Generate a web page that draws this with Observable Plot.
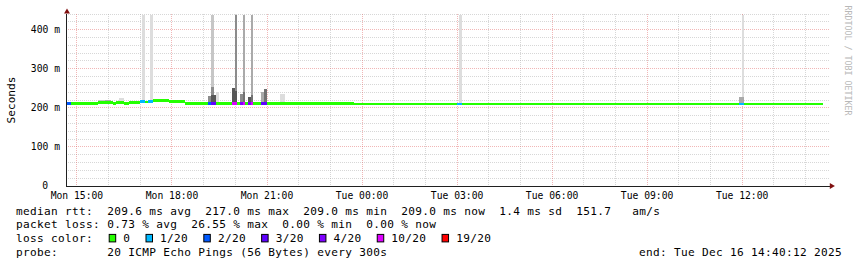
<!DOCTYPE html>
<html><head><meta charset="utf-8">
<script src="https://cdn.jsdelivr.net/npm/d3@7"></script>
<script src="https://cdn.jsdelivr.net/npm/@observablehq/plot@0.6"></script>
<style>
html,body{margin:0;padding:0;background:#fff;}
#wrap{position:relative;width:857px;height:267px;overflow:hidden;background:#fff;}
#wrap svg{display:block;}
</style></head>
<body><div id="wrap"></div>
<script>
// ---------- DATA ----------
// median rtt runs (5-minute steps), "day HH:MM" in Dec 2025
const runStart = ["15 14:40","15 14:50","15 15:40","15 15:55","15 16:10","15 16:15","15 16:30","15 16:40","15 17:00","15 17:10","15 17:15","15 17:25","15 17:55","15 18:25","15 19:10","15 19:15","15 19:25","15 19:55","15 20:05","15 20:10","15 20:15","15 20:20","15 20:25","15 20:30","15 20:35","15 20:50","15 21:00","15 23:45","16 03:00","16 03:10","16 11:55","16 12:05"];
const lastSample = "16 14:35";
const runMedianMs = [210.5,210.5,211.5,212.5,209.5,212.5,210,212.5,214,213.5,214,217,215,210.5,210.5,210.5,210.5,210.5,210.5,210.5,210.5,210.5,210.5,210.5,210.5,210.5,210.5,208.5,208.5,208.5,208.5,208.5];
const runLoss = [2,0,0,0,0,0,0,0,1,0,1,0,0,0,2,3,0,10,0,4,10,0,4,10,0,3,0,0,1,0,1,0];

// smoke (ping spread) blocks
const smokeStart = ["15 15:40","15 15:55","15 16:20","15 16:40","15 17:05","15 17:20","15 17:55","15 19:10","15 19:15","15 19:15","15 19:15","15 19:20","15 19:25","15 19:55","15 20:00","15 20:00","15 20:10","15 20:15","15 20:15","15 20:25","15 20:30","15 20:30","15 20:50","15 20:55","15 21:25","16 03:05","16 11:55","16 12:00"];
const smokeEnd   = ["15 15:55","15 16:05","15 16:30","15 17:00","15 17:10","15 17:25","15 18:10","15 19:15","15 19:20","15 19:20","15 19:20","15 19:25","15 19:30","15 20:00","15 20:05","15 20:05","15 20:15","15 20:20","15 20:20","15 20:30","15 20:35","15 20:35","15 20:55","15 21:00","15 21:35","16 03:10","16 12:05","16 12:05"];
const smokeLoMs  = [211,212,212,211,214,214,214,212,212,232,253,212,212,212,212,243,212,212,240,212,212,231,212,212,214,210,210,226];
const smokeHiMs  = [218,219,224,217,436,436,219,230,232,253,436,232,239,250,243,436,234,240,436,227,231,436,239,247,234,436,226,436];
const smokeDensity = [2,3,1,3,1,1,4,4,6,4,2,6,1,6,6,4,4,5,3,6,5,3,3,5,1,1,3,1];

// axes / legend
const xTickTimes  = ["15 15:00","15 18:00","15 21:00","16 00:00","16 03:00","16 06:00","16 09:00","16 12:00"];
const xTickLabels = ["Mon 15:00","Mon 18:00","Mon 21:00","Tue 00:00","Tue 03:00","Tue 06:00","Tue 09:00","Tue 12:00"];
const yTicksMs = [0,100,200,300,400];
const yTickLabels = ["0","100 m","200 m","300 m","400 m"];
const lossLevels = [0,1,2,3,4,10,19];
const lossLabels = ["0","1/20","2/20","3/20","4/20","10/20","19/20"];
const rttStats  = ["209.6 ms avg","217.0 ms max","209.0 ms min","209.0 ms now","1.4 ms sd","151.7   am/s"];
const lossStats = ["0.73 % avg","26.55 % max","0.00 % min","0.00 % now"];
const probeText = "20 ICMP Echo Pings (56 Bytes) every 300s";
const endText = "end: Tue Dec 16 14:40:12 2025";

// ---------- STYLE ----------
const lossColors = ["#26ff00","#00b8ff","#0059ff","#5e00ff","#7e00ff","#dd00ff","#ff0000"];
const smokeGrays = ["#dddddd","#c6c6c6","#aaaaaa","#8c8c8c","#727272","#575757"];
const MONO = "DejaVu Sans Mono";

function T(s){const [d,hm]=s.split(" ");const [h,m]=hm.split(":").map(Number);return new Date(Date.UTC(2025,11,+d,h,m));}
const tStart = new Date(Date.UTC(2025,11,15,14,40,12));
const tEnd   = new Date(Date.UTC(2025,11,16,14,40,12));

const runs = runStart.map((s,i)=>({
  x1:T(s), x2:T(i+1<runStart.length?runStart[i+1]:lastSample),
  ms:runMedianMs[i], color: lossColors[lossLevels.indexOf(runLoss[i])]
}));
const smoke = smokeStart.map((s,i)=>({x1:T(s),x2:T(smokeEnd[i]),y1:smokeLoMs[i],y2:smokeHiMs[i],fill:smokeGrays[smokeDensity[i]-1]}));

const hours = d3.utcHour.range(T("15 15:00"), tEnd);
const majorX = hours.filter(d=>d.getUTCHours()%3===0);
const minorX = hours.filter(d=>d.getUTCHours()%3!==0);
const minorY = d3.range(20,441,20).filter(d=>d%100!==0);
const majorY = yTicksMs.filter(d=>d>0);
const xTicks = xTickTimes.map((s,i)=>({t:T(s),label:xTickLabels[i]}));
const yTicks = yTicksMs.map((v,i)=>({v,label:yTickLabels[i]}));

const H = 201, BAND = 3.5;
const gridMinor = {stroke:"#a0a0a0",strokeOpacity:0.42,strokeDasharray:"1,1",shapeRendering:"crispEdges"};
const gridMajor = {stroke:"#e06060",strokeOpacity:0.45,strokeDasharray:"1,1",shapeRendering:"crispEdges"};
const plot = Plot.plot({
  width:857, height:H,
  marginLeft:66, marginRight:27, marginTop:13.5, marginBottom:H-185.5,
  x:{type:"utc", domain:[tStart,tEnd], range:[66,826.2], axis:null},
  y:{domain:[0,440], range:[185.5,13.5], axis:null},
  color:{type:"identity"},
  style:{fontFamily:MONO, background:"#fff", overflow:"visible"},
  marks:[
    Plot.ruleY(minorY,gridMinor),
    Plot.ruleX(minorX,gridMinor),
    Plot.ruleY(majorY,gridMajor),
    Plot.ruleX(majorX,gridMajor),
    Plot.rect(smoke,{x1:"x1",x2:"x2",y1:"y1",y2:"y2",fill:"fill",inset:0,shapeRendering:"crispEdges"}),
    Plot.rect(runs,{x1:"x1",x2:"x2",y1:d=>d.ms-BAND,y2:d=>d.ms+BAND,fill:"color",inset:0,shapeRendering:"crispEdges"}),
    Plot.ruleY([0],{stroke:"#202020",shapeRendering:"crispEdges"}),
    Plot.ruleX([tStart],{stroke:"#202020",shapeRendering:"crispEdges"}),
    Plot.dot([0],{frameAnchor:"top-left",symbol:"triangle",r:2.2,fill:"#801010",stroke:"none",dx:0.5,dy:-2.1}),
    Plot.dot([0],{frameAnchor:"bottom-right",symbol:"triangle",rotate:90,r:2.2,fill:"#801010",stroke:"none",dx:1,dy:0}),
    Plot.text(xTicks,{x:"t",text:"label",frameAnchor:"bottom",dy:9.5,lineAnchor:"middle",fontSize:9.7,fill:"#000",fontFamily:MONO}),
    Plot.text(yTicks,{y:"v",text:"label",frameAnchor:"left",textAnchor:"end",lineAnchor:"middle",fontSize:9.7,fill:"#000",fontFamily:MONO,
      filter:d=>d.v>0, dx:-6.5}),
    Plot.text(yTicks,{y:"v",text:"label",frameAnchor:"left",textAnchor:"end",lineAnchor:"middle",fontSize:9.7,fill:"#000",fontFamily:MONO,
      filter:d=>d.v===0, dx:-18.5}),
    Plot.text(["Seconds"],{frameAnchor:"left",rotate:-90,dx:-55,textAnchor:"middle",lineAnchor:"middle",fontSize:11.1,fill:"#000",fontFamily:MONO}),
    Plot.text(["RRDTOOL / TOBI OETIKER"],{frameAnchor:"top-right",rotate:90,dx:17.5,dy:-8.5,textAnchor:"start",lineAnchor:"middle",fontSize:8.3,fill:"#b8b8b8",fontFamily:MONO})
  ]
});
document.getElementById("wrap").appendChild(plot);

// ---------- LEGEND (below the plot) ----------
const LF = 11.1, LS = 0.32, CW = LF*0.602+LS;
const leg = d3.select("#wrap").append("svg").attr("width",857).attr("height",267-H)
  .attr("font-family",MONO).attr("font-size",LF).attr("letter-spacing",LS).style("white-space","pre");
const base = [214.5,228.2,241.9,255.6].map(b=>b-H);
const tx = (x,y,s)=>leg.append("text").attr("x",x).attr("y",y).attr("xml:space","preserve").text(s);
tx(16,base[0],"median rtt:");
tx(107.3,base[0],rttStats.join("  "));
tx(16,base[1],"packet loss:");
tx(107.3,base[1],lossStats.join("  "));
tx(16,base[2],"loss color:");
let lx = 108.7;
lossLabels.forEach((lab,i)=>{
  leg.append("rect").attr("x",lx+0.5).attr("y",base[2]-7.5).attr("width",6.5).attr("height",7.5)
    .attr("fill",lossColors[i]).attr("stroke","#000").attr("stroke-width",1);
  tx(lx+14.6,base[2],lab);
  lx += 14.6 + lab.length*CW + 15.2;
});
tx(16,base[3],"probe:");
tx(107.3,base[3],probeText);
tx(639,base[3],endText);
</script>
</body></html>
